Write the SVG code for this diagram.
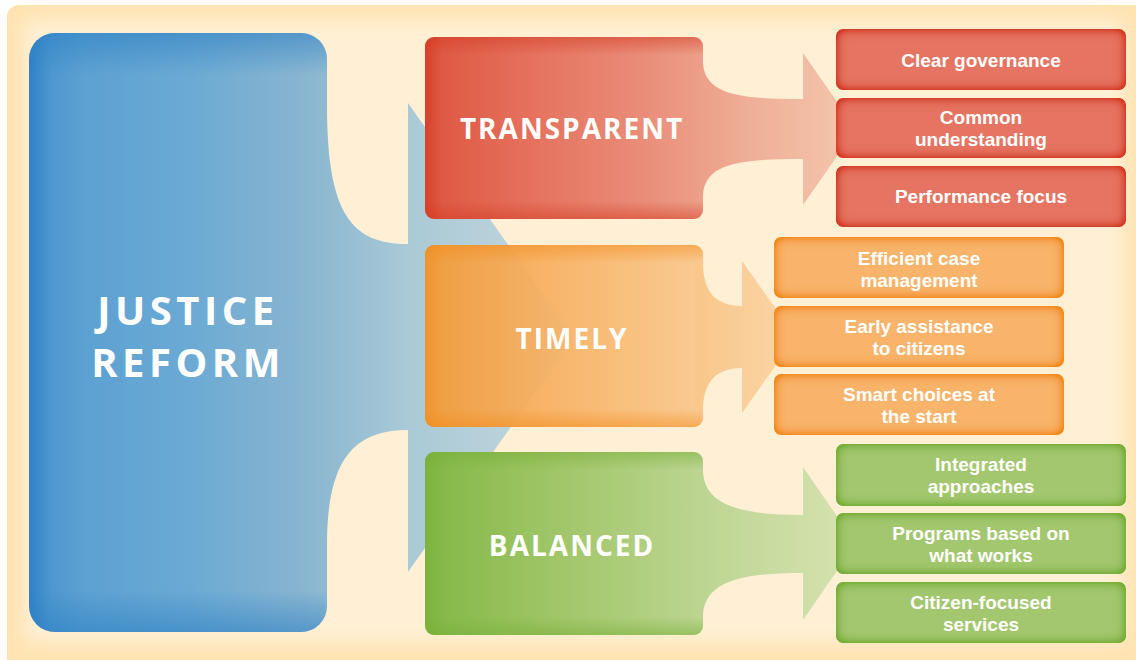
<svg xmlns="http://www.w3.org/2000/svg" width="1136" height="660" viewBox="0 0 1136 660">
<defs>
<style>
.big{font-family:"Open Sans",Lato,"DejaVu Sans",sans-serif;font-weight:bold;font-size:28px;letter-spacing:2px;fill:#fff;text-anchor:middle}
.huge{font-family:"Open Sans",Lato,"DejaVu Sans",sans-serif;font-weight:bold;font-size:40px;letter-spacing:4.5px;fill:#fff;text-anchor:middle}
.sub{font-family:"Liberation Sans",Arial,sans-serif;font-weight:bold;font-size:19px;fill:#fff;text-anchor:middle}
</style>
<filter id="bgblur" x="-5%" y="-5%" width="110%" height="110%"><feGaussianBlur stdDeviation="9"/></filter>
<filter id="igRed" x="-5%" y="-10%" width="110%" height="120%"><feGaussianBlur in="SourceAlpha" stdDeviation="6" result="b"/><feComposite in="SourceAlpha" in2="b" operator="arithmetic" k2="2" k3="-2" result="e"/><feFlood flood-color="#D63D25"/><feComposite in2="e" operator="in" result="g"/><feMerge><feMergeNode in="SourceGraphic"/><feMergeNode in="g"/></feMerge></filter>
<filter id="igOr" x="-5%" y="-10%" width="110%" height="120%"><feGaussianBlur in="SourceAlpha" stdDeviation="6" result="b"/><feComposite in="SourceAlpha" in2="b" operator="arithmetic" k2="2" k3="-2" result="e"/><feFlood flood-color="#F28C1C"/><feComposite in2="e" operator="in" result="g"/><feMerge><feMergeNode in="SourceGraphic"/><feMergeNode in="g"/></feMerge></filter>
<filter id="igGr" x="-5%" y="-10%" width="110%" height="120%"><feGaussianBlur in="SourceAlpha" stdDeviation="6" result="b"/><feComposite in="SourceAlpha" in2="b" operator="arithmetic" k2="2" k3="-2" result="e"/><feFlood flood-color="#78AF38"/><feComposite in2="e" operator="in" result="g"/><feMerge><feMergeNode in="SourceGraphic"/><feMergeNode in="g"/></feMerge></filter>
<linearGradient id="gBlue" gradientUnits="userSpaceOnUse" x1="29" y1="0" x2="575" y2="0">
<stop offset="0" stop-color="#2E82C6"/><stop offset="0.04" stop-color="#4E97CF"/><stop offset="0.1" stop-color="#5CA1D2"/><stop offset="0.3" stop-color="#6CAAD4"/><stop offset="0.5" stop-color="#88B5D0"/><stop offset="0.7" stop-color="#AACAD6"/><stop offset="1" stop-color="#C5D8DD"/>
</linearGradient>
<linearGradient id="gRed" gradientUnits="userSpaceOnUse" x1="425" y1="0" x2="856" y2="0">
<stop offset="0" stop-color="#D9402A"/><stop offset="0.04" stop-color="#DF5A44"/><stop offset="0.25" stop-color="#E5725E"/><stop offset="0.5" stop-color="#E98C78"/><stop offset="0.75" stop-color="#EFAE96"/><stop offset="1" stop-color="#F4C7AE"/>
</linearGradient>
<linearGradient id="gOr" gradientUnits="userSpaceOnUse" x1="425" y1="0" x2="796" y2="0">
<stop offset="0" stop-color="#F39023"/><stop offset="0.05" stop-color="#F59D3A"/><stop offset="0.35" stop-color="#F7B163"/><stop offset="0.7" stop-color="#F9C588"/><stop offset="1" stop-color="#FAD6A8"/>
</linearGradient>
<linearGradient id="gGr" gradientUnits="userSpaceOnUse" x1="425" y1="0" x2="856" y2="0">
<stop offset="0" stop-color="#7CB33C"/><stop offset="0.05" stop-color="#88BA4B"/><stop offset="0.35" stop-color="#A4C86D"/><stop offset="0.65" stop-color="#BDD592"/><stop offset="1" stop-color="#D7E3B2"/>
</linearGradient>
<linearGradient id="vBlue" x1="0" y1="0" x2="0" y2="1">
<stop offset="0" stop-color="#2B7FC3" stop-opacity="0.55"/><stop offset="0.07" stop-color="#2B7FC3" stop-opacity="0"/><stop offset="0.93" stop-color="#2B7FC3" stop-opacity="0"/><stop offset="1" stop-color="#2B7FC3" stop-opacity="0.55"/>
</linearGradient>
<linearGradient id="vRed" x1="0" y1="0" x2="0" y2="1">
<stop offset="0" stop-color="#D33A22" stop-opacity="0.5"/><stop offset="0.1" stop-color="#D33A22" stop-opacity="0"/><stop offset="0.9" stop-color="#D33A22" stop-opacity="0"/><stop offset="1" stop-color="#D33A22" stop-opacity="0.5"/>
</linearGradient>
<linearGradient id="vOr" x1="0" y1="0" x2="0" y2="1">
<stop offset="0" stop-color="#F28A1A" stop-opacity="0.5"/><stop offset="0.1" stop-color="#F28A1A" stop-opacity="0"/><stop offset="0.9" stop-color="#F28A1A" stop-opacity="0"/><stop offset="1" stop-color="#F28A1A" stop-opacity="0.5"/>
</linearGradient>
<linearGradient id="vGr" x1="0" y1="0" x2="0" y2="1">
<stop offset="0" stop-color="#76AE36" stop-opacity="0.5"/><stop offset="0.1" stop-color="#76AE36" stop-opacity="0"/><stop offset="0.9" stop-color="#76AE36" stop-opacity="0"/><stop offset="1" stop-color="#76AE36" stop-opacity="0.5"/>
</linearGradient>
</defs>

<!-- background -->
<rect x="0" y="0" width="1136" height="660" fill="#FFFFFF"/>
<rect x="7" y="5" width="1140" height="670" rx="12" fill="#FFE3B2"/>
<rect x="24" y="20" width="1100" height="622" rx="10" fill="#FFF0D5" filter="url(#bgblur)"/>

<g id="connectors">
<path id="arrow-justice" d="M318,105 L327,105 C327,215 352,244 408,244 L408,103 L574,338 L408,572 L408,430 C352,430 327,462 327,545 L318,545 Z" fill="url(#gBlue)"/>
<path id="arrow-transparent" d="M695,63 L703,63 C705,95 740,99 803,99 L803,53 L856,129 L803,205 L803,159 C740,159 705,163 703,195 L695,195 Z" fill="url(#gRed)"/>
<path id="arrow-timely" d="M695,263 L703,263 C703,292 716,306 742,306 L742,261 L796,337 L742,413 L742,368 C716,368 703,382 703,411 L695,411 Z" fill="url(#gOr)"/>
<path id="arrow-balanced" d="M695,472 L703,472 C705,505 740,515 803,515 L803,467 L856,543.5 L803,620 L803,573 C740,573 705,582 703,615 L695,615 Z" fill="url(#gGr)"/>
</g>

<g id="justice-reform">
<rect x="29" y="33" width="298" height="599" rx="26" fill="url(#gBlue)"/>
<rect x="29" y="33" width="298" height="599" rx="26" fill="url(#vBlue)"/>
<text class="huge" x="188" y="325">JUSTICE</text>
<text class="huge" x="188" y="377">REFORM</text>
</g>

<g id="transparent">
<rect x="425" y="37" width="278" height="182" rx="9" fill="url(#gRed)"/>
<rect x="425" y="37" width="278" height="182" rx="9" fill="url(#vRed)"/>
<text class="big" x="572" y="139">TRANSPARENT</text>
</g>

<g id="timely">
<rect x="425" y="245" width="278" height="182" rx="9" fill="url(#gOr)" fill-opacity="0.93"/>
<rect x="425" y="245" width="278" height="182" rx="9" fill="url(#vOr)"/>
<text class="big" x="572" y="349">TIMELY</text>
</g>

<g id="balanced">
<rect x="425" y="452" width="278" height="183" rx="9" fill="url(#gGr)"/>
<rect x="425" y="452" width="278" height="183" rx="9" fill="url(#vGr)"/>
<text class="big" x="572" y="556">BALANCED</text>
</g>

<g id="clear-governance">
<rect x="836" y="29" width="290" height="61" rx="7" fill="#E57462" filter="url(#igRed)"/>
<text class="sub" x="981" y="67">Clear governance</text>
</g>
<g id="common-understanding">
<rect x="836" y="98" width="290" height="60" rx="7" fill="#E57462" filter="url(#igRed)"/>
<text class="sub" x="981" y="124">Common</text>
<text class="sub" x="981" y="146">understanding</text>
</g>
<g id="performance-focus">
<rect x="836" y="166" width="290" height="61" rx="7" fill="#E57462" filter="url(#igRed)"/>
<text class="sub" x="981" y="203">Performance focus</text>
</g>

<g id="efficient-case-management">
<rect x="774" y="237" width="290" height="61" rx="7" fill="#F8B46A" filter="url(#igOr)"/>
<text class="sub" x="919" y="265">Efficient case</text>
<text class="sub" x="919" y="287">management</text>
</g>
<g id="early-assistance">
<rect x="774" y="306" width="290" height="61" rx="7" fill="#F8B46A" filter="url(#igOr)"/>
<text class="sub" x="919" y="333">Early assistance</text>
<text class="sub" x="919" y="355">to citizens</text>
</g>
<g id="smart-choices">
<rect x="774" y="374" width="290" height="61" rx="7" fill="#F8B46A" filter="url(#igOr)"/>
<text class="sub" x="919" y="401">Smart choices at</text>
<text class="sub" x="919" y="423">the start</text>
</g>

<g id="integrated-approaches">
<rect x="836" y="444" width="290" height="62" rx="7" fill="#A3C76E" filter="url(#igGr)"/>
<text class="sub" x="981" y="471">Integrated</text>
<text class="sub" x="981" y="493">approaches</text>
</g>
<g id="programs-what-works">
<rect x="836" y="513" width="290" height="61" rx="7" fill="#A3C76E" filter="url(#igGr)"/>
<text class="sub" x="981" y="540">Programs based on</text>
<text class="sub" x="981" y="562">what works</text>
</g>
<g id="citizen-focused">
<rect x="836" y="582" width="290" height="61" rx="7" fill="#A3C76E" filter="url(#igGr)"/>
<text class="sub" x="981" y="609">Citizen-focused</text>
<text class="sub" x="981" y="631">services</text>
</g>
</svg>
